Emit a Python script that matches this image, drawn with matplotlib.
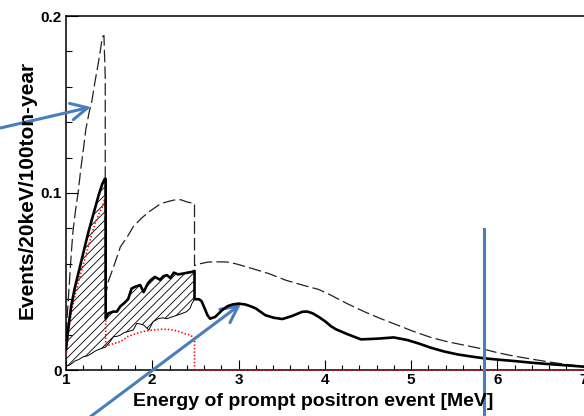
import numpy as np
import matplotlib
matplotlib.use("Agg")
import matplotlib.pyplot as plt
from matplotlib.lines import Line2D
from matplotlib.ticker import MultipleLocator

# upper scenario (thin dashed)
e_upper = [1.00, 1.02, 1.04, 1.06, 1.08, 1.11, 1.14, 1.17, 1.20, 1.23,
           1.27, 1.30, 1.34, 1.37, 1.40, 1.42, 1.44, 1.455, 1.455, 1.47,
           1.49, 1.55, 1.63, 1.72, 1.78, 1.88, 1.98, 2.10, 2.17, 2.25,
           2.33, 2.40, 2.49, 2.49, 2.55, 2.65, 2.77, 2.87, 2.97, 3.16,
           3.35, 3.55, 3.74, 3.93, 4.07, 4.26, 4.46, 4.65, 4.84, 5.03,
           5.23, 5.42, 5.61, 5.85, 6.00, 6.19, 6.38, 6.58, 6.78, 7.00]
n_upper = [0.020, 0.035, 0.050, 0.065, 0.078, 0.090, 0.100, 0.113, 0.124, 0.136,
           0.146, 0.152, 0.164, 0.172, 0.181, 0.188, 0.189, 0.165, 0.045, 0.045,
           0.050, 0.058, 0.0695, 0.076, 0.081, 0.086, 0.090, 0.094, 0.095, 0.096,
           0.0962, 0.095, 0.094, 0.059, 0.060, 0.061, 0.0611, 0.061, 0.060, 0.0573,
           0.0545, 0.0507, 0.048, 0.0455, 0.0423, 0.0375, 0.0329, 0.029, 0.0254, 0.0218,
           0.0184, 0.016, 0.0141, 0.0117, 0.0098, 0.0079, 0.0063, 0.0047, 0.0033, 0.0019]

# total spectrum (thick solid)
e_total = [1.00, 1.03, 1.06, 1.10, 1.14, 1.18, 1.22, 1.26, 1.30, 1.34,
           1.38, 1.42, 1.45, 1.46, 1.46, 1.49, 1.55, 1.59, 1.63, 1.67,
           1.72, 1.76, 1.80, 1.86, 1.90, 1.95, 1.98, 2.03, 2.09, 2.13,
           2.17, 2.21, 2.25, 2.30, 2.36, 2.41, 2.46, 2.49, 2.49, 2.54,
           2.57, 2.60, 2.64, 2.67, 2.73, 2.81, 2.87, 2.93, 3.00, 3.08,
           3.14, 3.20, 3.31, 3.41, 3.51, 3.62, 3.74, 3.80, 3.86, 3.93,
           4.01, 4.07, 4.13, 4.26, 4.42, 4.61, 4.80, 4.96, 5.10, 5.23,
           5.38, 5.54, 5.70, 5.85, 6.02, 6.19, 6.38, 6.58, 6.78, 7.00]
n_total = [0.012, 0.025, 0.036, 0.046, 0.054, 0.062, 0.070, 0.078, 0.085, 0.092,
           0.099, 0.105, 0.108, 0.108, 0.029, 0.032, 0.033, 0.033, 0.036, 0.0376,
           0.040, 0.046, 0.047, 0.048, 0.044, 0.049, 0.0507, 0.0526, 0.051, 0.053,
           0.0536, 0.052, 0.055, 0.054, 0.0545, 0.055, 0.0554, 0.056, 0.040, 0.040,
           0.039, 0.0357, 0.031, 0.029, 0.030, 0.0338, 0.036, 0.037, 0.0375, 0.037,
           0.036, 0.0348, 0.031, 0.0295, 0.0288, 0.0305, 0.0329, 0.033, 0.032, 0.030,
           0.0273, 0.0248, 0.023, 0.0203, 0.0173, 0.0177, 0.0184, 0.0169, 0.0148, 0.0126,
           0.0105, 0.0088, 0.0076, 0.0066, 0.0058, 0.0051, 0.0042, 0.0034, 0.0027, 0.0019]

# lower edge of the hatched band
e_low = [1.00, 1.05, 1.10, 1.15, 1.20, 1.25, 1.30, 1.35, 1.40, 1.46,
         1.51, 1.55, 1.59, 1.63, 1.67, 1.71, 1.78, 1.82, 1.86, 1.90,
         1.96, 2.01, 2.07, 2.12, 2.17, 2.23, 2.29, 2.35, 2.40, 2.44,
         2.46, 2.49]
n_low = [0.002, 0.003, 0.005, 0.006, 0.0075, 0.008, 0.0095, 0.011, 0.012, 0.013,
         0.016, 0.0188, 0.019, 0.0197, 0.021, 0.0216, 0.0226, 0.0263, 0.026, 0.0254,
         0.0226, 0.0273, 0.029, 0.0295, 0.029, 0.030, 0.031, 0.032, 0.033, 0.035,
         0.0376, 0.040]

# geo component (red dotted)
e_geo = [1.00, 1.01, 1.03, 1.06, 1.10, 1.14, 1.18, 1.22, 1.26, 1.30,
         1.34, 1.38, 1.42, 1.445, 1.46, 1.46, 1.49, 1.56, 1.63, 1.72,
         1.82, 1.92, 2.01, 2.10, 2.17, 2.25, 2.32, 2.38, 2.44, 2.49,
         2.49, 7.00]
n_geo = [0.008, 0.011, 0.0226, 0.032, 0.041, 0.049, 0.056, 0.063, 0.070, 0.077,
         0.083, 0.088, 0.092, 0.096, 0.090, 0.014, 0.014, 0.015, 0.016, 0.019,
         0.0207, 0.022, 0.0226, 0.023, 0.023, 0.0225, 0.0216, 0.0205, 0.0197, 0.018,
         0.0, 0.0]

x_ticks = [1, 2, 3, 4, 5, 6, 7]
y_ticks = [0, 0.1, 0.2]
y_tick_labels = ["0", "0.1", "0.2"]

plt.rcParams['font.family'] = ['Liberation Sans', 'DejaVu Sans']
plt.rcParams['font.weight'] = 'bold'
plt.rcParams['lines.scale_dashes'] = False
plt.rcParams['hatch.linewidth'] = 0.6

W, H = 584, 416
fig = plt.figure(figsize=(W / 100, H / 100), dpi=100)
ax = fig.add_axes([66 / W, 1 - 370 / H, (583.5 - 66) / W, (370 - 16) / H])

# hatched band between lower edge and total (up to 2.49 MeV)
et = np.array(e_total)
nt = np.array(n_total)
top = et <= 2.49
poly_x = np.concatenate([e_low, et[top][::-1]])
poly_y = np.concatenate([n_low, nt[top][::-1]])
ax.fill(poly_x, poly_y, facecolor='none', edgecolor='black', hatch='////', linewidth=0)
ax.plot(e_low, n_low, color='black', lw=0.7)

ax.plot(e_upper, n_upper, color='#222222', lw=0.9, dashes=(9, 3))
ax.plot(e_geo, n_geo, color='red', lw=1.2, linestyle=(0, (1, 1.5)), clip_on=False, zorder=3)
ax.plot(e_total, n_total, color='black', lw=1.9, zorder=4)

ax.set_xlim(1, 7)
ax.set_ylim(0, 0.2)
ax.set_xticks(x_ticks)
ax.set_xticklabels([str(t) for t in x_ticks], fontweight='bold', fontsize=11)
ax.set_yticks(y_ticks)
ax.set_yticklabels(y_tick_labels, fontweight='bold', fontsize=11)
ax.xaxis.set_minor_locator(MultipleLocator(0.2))
ax.yaxis.set_minor_locator(MultipleLocator(0.02))
ax.tick_params(axis='x', which='major', direction='in', length=7.2, width=0.8, pad=2)
ax.tick_params(axis='x', which='minor', direction='in', length=3.6, width=0.8)
ax.tick_params(axis='y', which='major', direction='in', length=8.6, width=0.8, pad=3)
ax.tick_params(axis='y', which='minor', direction='in', length=4.3, width=0.8)
ax.tick_params(top=False, right=False, which='both')
for side in ['left', 'bottom', 'top']:
    ax.spines[side].set_linewidth(1.1)
ax.spines['right'].set_visible(False)

fig.text(313 / W, 1 - 401 / H, 'Energy of prompt positron event [MeV]',
         ha='center', va='center', fontsize=14, fontweight='bold')
fig.text(27 / W, 1 - 190 / H, 'Events/20keV/100ton-year', rotation=90,
         ha='center', va='center', fontsize=15, fontweight='bold')

# blue pointers
blue = '#4a7ebb'
arrow = dict(arrowstyle='->,head_length=0.6,head_width=0.3', color=blue, lw=2.2,
             shrinkA=0, shrinkB=0, mutation_scale=20)
ax.annotate('', xy=(91, H - 107), xytext=(-4, H - 129), xycoords='figure pixels',
            textcoords='figure pixels', arrowprops=arrow, annotation_clip=False)
ax.annotate('', xy=(241, H - 304), xytext=(86, -4), xycoords='figure pixels',
            textcoords='figure pixels', arrowprops=arrow, annotation_clip=False)
fig.add_artist(Line2D([484 / W, 484 / W], [0, 1 - 229 / H], color=blue, lw=2.2,
                      transform=fig.transFigure))

fig.savefig('out.png', dpi=100)
